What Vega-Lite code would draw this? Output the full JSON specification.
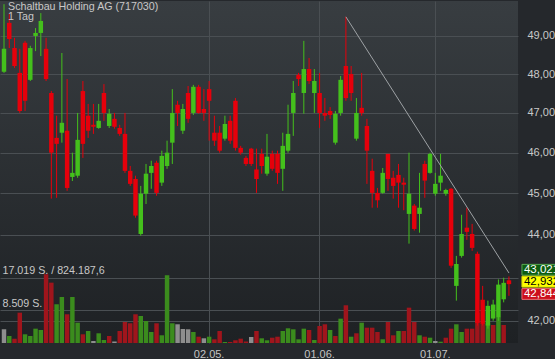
{
"$schema":"https://vega.github.io/schema/vega-lite/v6.json",
"width":518,"height":342,"padding":0,"autosize":{"type":"pad"},
"background":"#25282c",
"config":{"font":"Liberation Sans","locale":{"number":{"decimal":",","thousands":".","grouping":[3],"currency":["","€"]}},"view":{"stroke":null,"fill":{"gradient":"linear","x1":0,"y1":0,"x2":0,"y2":1,"stops":[{"offset":0,"color":"#383d41"},{"offset":1,"color":"#1e2124"}]}}},
"title":{"text":"Schaltbau Holding AG (717030)","subtitle":"1 Tag","anchor":"start","frame":"group","offset":-22,"dx":8,"fontSize":10.7,"subtitleFontSize":10.7,"fontWeight":"normal","color":"#c8c8c8","subtitleColor":"#c8c8c8","subtitlePadding":0,"font":"Liberation Sans","subtitleFont":"Liberation Sans"},
"datasets":{
"candles":[
{"d":"2016-03-04","o":48.06,"h":49.85,"l":48.03,"c":48.66,"v":3590,"vc":"flat"},
{"d":"2016-03-07","o":49.35,"h":49.59,"l":48.68,"c":48.92,"v":1830,"vc":"up"},
{"d":"2016-03-08","o":48.68,"h":48.95,"l":48.16,"c":48.21,"v":1130,"vc":"down"},
{"d":"2016-03-09","o":48.03,"h":48.66,"l":47.00,"c":47.05,"v":7940,"vc":"down"},
{"d":"2016-03-10","o":48.82,"h":48.87,"l":47.05,"c":47.31,"v":2280,"vc":"up"},
{"d":"2016-03-11","o":47.85,"h":48.74,"l":47.82,"c":48.68,"v":1830,"vc":"up"},
{"d":"2016-03-14","o":49.00,"h":49.21,"l":48.60,"c":49.08,"v":3750,"vc":"up"},
{"d":"2016-03-15","o":49.08,"h":49.61,"l":48.47,"c":49.40,"v":3410,"vc":"up"},
{"d":"2016-03-16","o":48.66,"h":48.95,"l":47.82,"c":47.87,"v":18000,"vc":"down"},
{"d":"2016-03-17","o":47.51,"h":47.56,"l":44.87,"c":46.00,"v":15800,"vc":"down"},
{"d":"2016-03-18","o":46.37,"h":46.93,"l":44.89,"c":46.22,"v":10140,"vc":"up"},
{"d":"2016-03-21","o":46.50,"h":48.55,"l":46.25,"c":46.75,"v":12050,"vc":"up"},
{"d":"2016-03-22","o":46.55,"h":47.87,"l":45.06,"c":45.13,"v":7520,"vc":"down"},
{"d":"2016-03-23","o":45.40,"h":46.00,"l":45.30,"c":45.50,"v":12050,"vc":"up"},
{"d":"2016-03-24","o":45.43,"h":47.00,"l":45.38,"c":46.32,"v":5320,"vc":"up"},
{"d":"2016-03-29","o":47.56,"h":47.82,"l":45.87,"c":46.22,"v":2280,"vc":"down"},
{"d":"2016-03-30","o":46.93,"h":47.23,"l":46.37,"c":46.55,"v":3140,"vc":"up"},
{"d":"2016-03-31","o":46.70,"h":47.23,"l":46.47,"c":46.65,"v":520,"vc":"flat"},
{"d":"2016-04-01","o":46.62,"h":47.23,"l":46.60,"c":46.80,"v":2540,"vc":"up"},
{"d":"2016-04-04","o":47.51,"h":47.74,"l":46.80,"c":47.00,"v":790,"vc":"up"},
{"d":"2016-04-05","o":46.67,"h":47.10,"l":46.62,"c":46.98,"v":1830,"vc":"down"},
{"d":"2016-04-06","o":46.85,"h":47.00,"l":46.60,"c":46.65,"v":390,"vc":"flat"},
{"d":"2016-04-07","o":46.62,"h":46.70,"l":46.42,"c":46.47,"v":3140,"vc":"down"},
{"d":"2016-04-08","o":46.47,"h":47.00,"l":45.50,"c":45.55,"v":5500,"vc":"down"},
{"d":"2016-04-11","o":45.55,"h":45.67,"l":45.18,"c":45.23,"v":5160,"vc":"down"},
{"d":"2016-04-12","o":45.35,"h":45.43,"l":44.41,"c":44.46,"v":7520,"vc":"down"},
{"d":"2016-04-13","o":44.02,"h":45.18,"l":43.98,"c":44.99,"v":7070,"vc":"up"},
{"d":"2016-04-14","o":44.99,"h":45.72,"l":44.74,"c":45.48,"v":5760,"vc":"up"},
{"d":"2016-04-15","o":45.50,"h":45.80,"l":45.11,"c":45.67,"v":2880,"vc":"up"},
{"d":"2016-04-18","o":45.75,"h":45.80,"l":44.94,"c":45.01,"v":5160,"vc":"down"},
{"d":"2016-04-19","o":45.26,"h":46.05,"l":45.18,"c":45.92,"v":2020,"vc":"up"},
{"d":"2016-04-20","o":45.67,"h":46.30,"l":45.60,"c":46.00,"v":17740,"vc":"up"},
{"d":"2016-04-21","o":46.25,"h":47.61,"l":45.72,"c":47.00,"v":5160,"vc":"up"},
{"d":"2016-04-22","o":47.21,"h":47.31,"l":46.67,"c":47.00,"v":4900,"vc":"flat"},
{"d":"2016-04-25","o":46.55,"h":47.23,"l":46.47,"c":47.10,"v":3670,"vc":"flat"},
{"d":"2016-04-26","o":47.51,"h":47.69,"l":46.75,"c":46.85,"v":3590,"vc":"flat"},
{"d":"2016-04-27","o":47.00,"h":47.72,"l":46.95,"c":47.67,"v":2880,"vc":"up"},
{"d":"2016-04-28","o":47.67,"h":47.72,"l":46.98,"c":47.00,"v":1650,"vc":"down"},
{"d":"2016-04-29","o":47.10,"h":47.61,"l":46.80,"c":47.00,"v":1230,"vc":"flat"},
{"d":"2016-05-02","o":47.61,"h":47.82,"l":46.30,"c":47.31,"v":1650,"vc":"up"},
{"d":"2016-05-03","o":46.50,"h":46.93,"l":46.17,"c":46.30,"v":970,"vc":"down"},
{"d":"2016-05-04","o":46.50,"h":46.67,"l":46.00,"c":46.05,"v":3140,"vc":"down"},
{"d":"2016-05-05","o":46.35,"h":46.93,"l":46.30,"c":46.72,"v":260,"vc":"up"},
{"d":"2016-05-06","o":46.80,"h":46.93,"l":46.22,"c":46.30,"v":260,"vc":"down"},
{"d":"2016-05-09","o":47.31,"h":47.38,"l":46.05,"c":46.12,"v":710,"vc":"down"},
{"d":"2016-05-10","o":46.12,"h":46.17,"l":45.95,"c":46.00,"v":1130,"vc":"down"},
{"d":"2016-05-11","o":45.87,"h":45.92,"l":45.67,"c":45.72,"v":390,"vc":"down"},
{"d":"2016-05-12","o":46.10,"h":46.12,"l":45.67,"c":45.72,"v":1570,"vc":"flat"},
{"d":"2016-05-13","o":45.58,"h":46.10,"l":45.01,"c":45.35,"v":3140,"vc":"down"},
{"d":"2016-05-17","o":45.97,"h":46.10,"l":45.48,"c":45.67,"v":1230,"vc":"up"},
{"d":"2016-05-18","o":45.48,"h":46.47,"l":45.43,"c":45.90,"v":710,"vc":"up"},
{"d":"2016-05-19","o":45.97,"h":46.05,"l":45.55,"c":45.60,"v":1390,"vc":"down"},
{"d":"2016-05-20","o":45.97,"h":46.05,"l":45.23,"c":45.50,"v":1650,"vc":"down"},
{"d":"2016-05-23","o":45.60,"h":46.50,"l":45.06,"c":46.17,"v":3140,"vc":"up"},
{"d":"2016-05-24","o":46.05,"h":47.21,"l":46.00,"c":46.47,"v":3850,"vc":"up"},
{"d":"2016-05-25","o":47.00,"h":47.82,"l":46.42,"c":47.51,"v":3590,"vc":"up"},
{"d":"2016-05-26","o":47.98,"h":48.03,"l":47.69,"c":47.87,"v":970,"vc":"up"},
{"d":"2016-05-27","o":47.51,"h":48.87,"l":46.98,"c":48.13,"v":3750,"vc":"up"},
{"d":"2016-05-30","o":48.13,"h":48.42,"l":47.74,"c":47.82,"v":3410,"vc":"down"},
{"d":"2016-05-31","o":47.51,"h":48.13,"l":47.00,"c":47.82,"v":790,"vc":"up"},
{"d":"2016-06-01","o":47.51,"h":48.03,"l":46.62,"c":47.00,"v":4450,"vc":"down"},
{"d":"2016-06-02","o":47.00,"h":47.38,"l":46.80,"c":46.93,"v":4900,"vc":"down"},
{"d":"2016-06-03","o":47.05,"h":47.15,"l":46.85,"c":46.95,"v":3410,"vc":"up"},
{"d":"2016-06-06","o":46.25,"h":47.05,"l":46.20,"c":46.98,"v":1830,"vc":"down"},
{"d":"2016-06-07","o":47.00,"h":47.95,"l":46.93,"c":47.85,"v":6370,"vc":"up"},
{"d":"2016-06-08","o":48.21,"h":49.51,"l":47.31,"c":47.38,"v":9880,"vc":"down"},
{"d":"2016-06-09","o":48.00,"h":48.21,"l":47.31,"c":47.51,"v":1650,"vc":"up"},
{"d":"2016-06-10","o":46.35,"h":47.38,"l":46.30,"c":47.00,"v":2540,"vc":"down"},
{"d":"2016-06-13","o":47.13,"h":48.03,"l":46.93,"c":47.00,"v":5320,"vc":"up"},
{"d":"2016-06-14","o":46.67,"h":46.85,"l":45.23,"c":46.05,"v":4010,"vc":"down"},
{"d":"2016-06-15","o":45.55,"h":45.85,"l":44.65,"c":45.01,"v":4010,"vc":"down"},
{"d":"2016-06-16","o":45.01,"h":45.13,"l":44.65,"c":44.83,"v":2880,"vc":"down"},
{"d":"2016-06-17","o":45.01,"h":45.62,"l":44.99,"c":45.50,"v":970,"vc":"up"},
{"d":"2016-06-20","o":45.97,"h":45.97,"l":45.06,"c":45.35,"v":5500,"vc":"down"},
{"d":"2016-06-21","o":45.38,"h":45.55,"l":44.87,"c":45.18,"v":2020,"vc":"down"},
{"d":"2016-06-22","o":45.45,"h":45.72,"l":44.65,"c":45.26,"v":3140,"vc":"up"},
{"d":"2016-06-23","o":45.26,"h":45.38,"l":44.59,"c":45.21,"v":3140,"vc":"down"},
{"d":"2016-06-24","o":44.50,"h":46.00,"l":43.79,"c":44.99,"v":9250,"vc":"down"},
{"d":"2016-06-27","o":44.70,"h":44.74,"l":44.10,"c":44.14,"v":5500,"vc":"down"},
{"d":"2016-06-28","o":44.50,"h":45.50,"l":44.05,"c":44.65,"v":2020,"vc":"up"},
{"d":"2016-06-29","o":45.72,"h":45.80,"l":44.89,"c":45.31,"v":1650,"vc":"down"},
{"d":"2016-06-30","o":45.50,"h":46.00,"l":45.48,"c":45.97,"v":1390,"vc":"up"},
{"d":"2016-07-01","o":44.99,"h":45.50,"l":44.94,"c":45.23,"v":520,"vc":"flat"},
{"d":"2016-07-04","o":45.26,"h":45.97,"l":45.06,"c":45.43,"v":340,"vc":"up"},
{"d":"2016-07-05","o":44.99,"h":45.11,"l":44.94,"c":45.08,"v":1390,"vc":"down"},
{"d":"2016-07-06","o":45.11,"h":45.13,"l":43.22,"c":43.27,"v":3750,"vc":"down"},
{"d":"2016-07-07","o":42.80,"h":43.50,"l":42.46,"c":43.31,"v":4900,"vc":"up"},
{"d":"2016-07-08","o":43.50,"h":44.48,"l":43.46,"c":44.02,"v":2880,"vc":"up"},
{"d":"2016-07-11","o":44.17,"h":44.65,"l":43.88,"c":44.07,"v":3750,"vc":"down"},
{"d":"2016-07-12","o":44.02,"h":44.26,"l":43.62,"c":43.69,"v":3750,"vc":"down"},
{"d":"2016-07-13","o":43.55,"h":43.60,"l":41.89,"c":41.95,"v":7940,"vc":"down"},
{"d":"2016-07-14","o":42.48,"h":42.80,"l":41.89,"c":41.93,"v":5160,"vc":"down"},
{"d":"2016-07-15","o":41.89,"h":42.46,"l":41.82,"c":42.34,"v":5160,"vc":"up"},
{"d":"2016-07-18","o":42.05,"h":42.48,"l":42.00,"c":42.37,"v":4720,"vc":"down"},
{"d":"2016-07-19","o":42.07,"h":42.95,"l":42.00,"c":42.83,"v":6630,"vc":"up"},
{"d":"2016-07-20","o":42.49,"h":42.99,"l":42.42,"c":42.87,"v":4720,"vc":"down"},
{"d":"2016-07-21","o":42.93,"h":43.02,"l":42.57,"c":42.84,"v":0,"vc":"down"}
],
"trend":[{"d":"2016-06-08","p":49.51},{"d":"2016-07-21","p":43.10}],
"quotes":[{"d":"2016-07-21","p":43.021,"t":"43,021"},{"d":"2016-07-21","p":42.932,"t":"42,932"},{"d":"2016-07-21","p":42.844,"t":"42,844"}]
},
"encoding":{"x":{"field":"d","type":"ordinal","scale":{"type":"band","paddingInner":0,"paddingOuter":0.741,"align":0.176,"round":false},
"axis":{"values":["2016-05-02","2016-06-01","2016-07-01"],"labelExpr":"substring(datum.value,8,10)+'.'+substring(datum.value,5,7)+'.'","title":null,"grid":true,"gridColor":"#4a4f53","domain":false,"ticks":false,"labelAngle":0,"labelColor":"#c4c4c4","labelFontSize":11,"labelPadding":5}}},
"layer":[
{"data":{"name":"candles"},"mark":{"type":"bar","width":{"band":0.85}},
"encoding":{"y":{"field":"v","type":"quantitative","scale":{"domain":[0,89536],"nice":false,"zero":true},
"axis":{"orient":"left","values":[8509,17019],"labelExpr":"datum.value > 10000 ? '17.019 S. / 824.187,6' : '8.509 S.'","title":null,"grid":true,"gridColor":"#4a4f53","domain":false,"ticks":false,"tickSize":0,"labelAlign":"left","labelBaseline":"bottom","labelPadding":-2,"labelOffset":-2,"labelColor":"#c8c8c8","labelFontSize":10.7}},
"color":{"field":"vc","type":"nominal","scale":{"domain":["up","down","flat"],"range":["#3b8c1d","#a0151c","#8e8e8e"]},"legend":null}}},
{"data":{"name":"candles"},"mark":{"type":"rule","strokeWidth":1},
"encoding":{"y":{"field":"l","type":"quantitative","scale":{"type":"log","domain":[41.497,49.936],"nice":false,"zero":false},
"axis":{"orient":"right","values":[42,44,45,46,47,48,49],"format":".3f","labelOverlap":false,"title":null,"grid":true,"gridColor":"#4a4f53","domain":false,"ticks":false,"tickSize":0,"labelPadding":9,"labelColor":"#c8c8c8","labelFontSize":11}},
"y2":{"field":"h"},
"color":{"condition":{"test":"datum.c >= datum.o","value":"#44c01c"},"value":"#e6000b"}}},
{"data":{"name":"candles"},"mark":{"type":"bar","width":{"band":0.85}},
"encoding":{"y":{"field":"o","type":"quantitative","scale":{"type":"log","domain":[41.497,49.936],"nice":false,"zero":false},"axis":null},
"y2":{"field":"c"},
"color":{"condition":{"test":"datum.c >= datum.o","value":"#44c01c"},"value":"#e6000b"}}},
{"data":{"name":"trend"},"mark":{"type":"line","color":"#9ea2a5","strokeWidth":1},
"encoding":{"y":{"field":"p","type":"quantitative","scale":{"type":"log","domain":[41.497,49.936],"nice":false,"zero":false},"axis":null}}},
{"data":{"name":"quotes"},"transform":[{"filter":"datum.t == '43,021'"}],"mark":{"type":"point","shape":"M-1,-0.27H1V0.27H-1Z","size":1600,"filled":true,"fill":"#0d5c10","stroke":"#5aa854","strokeWidth":1,"opacity":1,"xOffset":33,"yOffset":-6.6},
"encoding":{"y":{"field":"p","type":"quantitative","scale":{"type":"log","domain":[41.497,49.936],"nice":false,"zero":false},"axis":null}}},
{"data":{"name":"quotes"},"transform":[{"filter":"datum.t == '42,932'"}],"mark":{"type":"point","shape":"M-1,-0.27H1V0.27H-1Z","size":1600,"filled":true,"fill":"#ffff00","stroke":"#d8d800","strokeWidth":1,"opacity":1,"xOffset":33,"yOffset":1.5},
"encoding":{"y":{"field":"p","type":"quantitative","scale":{"type":"log","domain":[41.497,49.936],"nice":false,"zero":false},"axis":null}}},
{"data":{"name":"quotes"},"transform":[{"filter":"datum.t == '42,844'"}],"mark":{"type":"point","shape":"M-1,-0.27H1V0.27H-1Z","size":1600,"filled":true,"fill":"#cc0f1c","stroke":"#e86a70","strokeWidth":1,"opacity":1,"xOffset":33,"yOffset":10},
"encoding":{"y":{"field":"p","type":"quantitative","scale":{"type":"log","domain":[41.497,49.936],"nice":false,"zero":false},"axis":null}}},
{"data":{"name":"quotes"},"transform":[{"filter":"datum.t == '43,021'"}],"mark":{"type":"text","align":"left","baseline":"middle","dx":15,"dy":-6.6,"fontSize":11.5,"color":"#ffffff"},
"encoding":{"y":{"field":"p","type":"quantitative","scale":{"type":"log","domain":[41.497,49.936],"nice":false,"zero":false},"axis":null},"text":{"field":"t"}}},
{"data":{"name":"quotes"},"transform":[{"filter":"datum.t == '42,932'"}],"mark":{"type":"text","align":"left","baseline":"middle","dx":15,"dy":1.5,"fontSize":11.5,"color":"#000000"},
"encoding":{"y":{"field":"p","type":"quantitative","scale":{"type":"log","domain":[41.497,49.936],"nice":false,"zero":false},"axis":null},"text":{"field":"t"}}},
{"data":{"name":"quotes"},"transform":[{"filter":"datum.t == '42,844'"}],"mark":{"type":"text","align":"left","baseline":"middle","dx":15,"dy":10,"fontSize":11.5,"color":"#ffffff"},
"encoding":{"y":{"field":"p","type":"quantitative","scale":{"type":"log","domain":[41.497,49.936],"nice":false,"zero":false},"axis":null},"text":{"field":"t"}}}
],
"resolve":{"scale":{"y":"independent","color":"independent"},"axis":{"y":"independent"}}
}
